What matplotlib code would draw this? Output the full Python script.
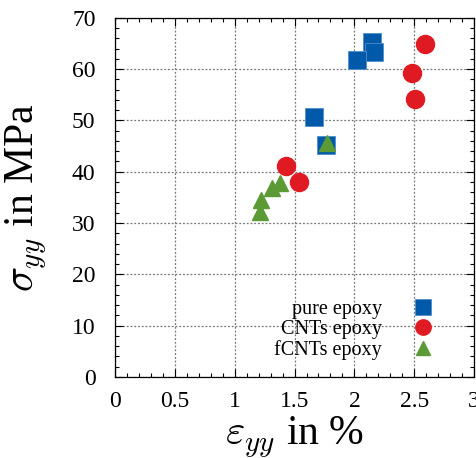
import matplotlib.pyplot as plt
from matplotlib.ticker import MultipleLocator

plt.rcParams['font.family'] = 'Liberation Serif'
plt.rcParams['mathtext.fontset'] = 'cm'

pure_x = [2.15, 2.16, 2.02, 1.66, 1.76]
pure_y = [65.3, 63.4, 61.8, 50.7, 45.2]
cnt_x = [2.59, 2.48, 2.51, 1.43, 1.54]
cnt_y = [64.9, 59.3, 54.2, 41.1, 38.0]
fcnt_x = [1.77, 1.38, 1.31, 1.22, 1.21]
fcnt_y = [45.6, 37.8, 36.8, 34.5, 32.2]

fig = plt.figure(figsize=(4.77, 4.58), dpi=100)
ax = fig.add_axes([0.241, 0.177, 0.753, 0.784])

ax.plot(pure_x, pure_y, 's', ms=13.5, color='#005aa9', mec='#4f8fcc', mew=0.6,
        label='pure epoxy', zorder=3)
ax.plot(cnt_x, cnt_y, 'o', ms=13, color='#e01a22', mec='#e01a22',
        label='CNTs epoxy', zorder=4)
ax.plot(fcnt_x, fcnt_y, '^', ms=12, color='#5b9a35', mec='#5b9a35',
        label='fCNTs epoxy', zorder=5)

ax.set_xlim(0, 3)
ax.set_ylim(0, 70)
ax.xaxis.set_major_locator(MultipleLocator(0.5))
ax.xaxis.set_minor_locator(MultipleLocator(0.1))
ax.yaxis.set_major_locator(MultipleLocator(10))
ax.yaxis.set_minor_locator(MultipleLocator(2))
ax.set_xticks([0, 0.5, 1, 1.5, 2, 2.5, 3])
ax.set_xticklabels(['0', '0.5', '1', '1.5', '2', '2.5', '3'])
ax.tick_params(which='both', direction='in', top=True, right=True,
               labelsize=17, width=0.8)
ax.tick_params(which='major', length=6)
ax.tick_params(which='minor', length=3)
ax.tick_params(axis='y', pad=14)
ax.tick_params(axis='x', pad=10)
ax.grid(True, which='major', linestyle=(0, (1.5, 1.5)), color='#777777',
        linewidth=0.9)
for s in ax.spines.values():
    s.set_linewidth(0.9)

ax.set_xlabel(r'$\varepsilon_{yy}$ in %', fontsize=30, labelpad=2)
ax.set_ylabel(r'$\sigma_{yy}$ in MPa', fontsize=30)
ax.yaxis.set_label_coords(-0.183, 0.5)

ax.legend(loc='lower right', bbox_to_anchor=(0.953, 0.009), frameon=False,
          markerfirst=False, fontsize=14.5, handletextpad=1.05,
          labelspacing=0.05, borderpad=0.2, markerscale=0.85)

fig.savefig('out.png', dpi=100)
